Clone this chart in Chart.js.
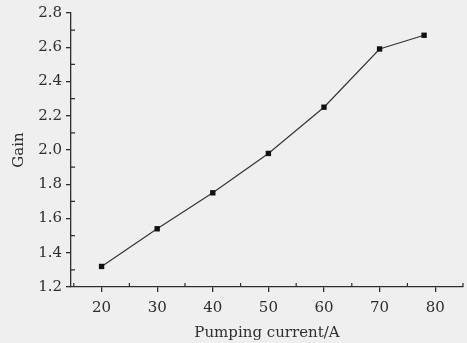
<!DOCTYPE html>
<html>
<head>
<meta charset="utf-8">
<script src="https://cdn.jsdelivr.net/npm/chart.js@4/dist/chart.umd.min.js"></script>
<style>
html, body { margin: 0; padding: 0; background: #efefef; }
#wrap { width: 467px; height: 343px; }
</style>
</head>
<body>
<div id="wrap"><canvas id="cnvs"></canvas></div>
<script>
// values
const currents = [20, 30, 40, 50, 60, 70, 78];
const gains = [1.32, 1.54, 1.75, 1.98, 2.25, 2.59, 2.67];

// tick positions
const xMajor = [20, 30, 40, 50, 60, 70, 80];
const xMinor = [15, 25, 35, 45, 55, 65, 75, 85];
const yMajor = [1.2, 1.4, 1.6, 1.8, 2.0, 2.2, 2.4, 2.6, 2.8];
const yMinor = [1.3, 1.5, 1.7, 1.9, 2.1, 2.3, 2.5, 2.7];

const ink = '#2e2e2e';
const font = { family: 'DejaVu Serif', size: 15 };

// small inward ticks between the labelled ones
const minorTicks = {
	id: 'minorTicks',
	afterDraw(chart)
	{
		var ctx = chart.ctx;
		var area = chart.chartArea;
		var xs = chart.scales.x, ys = chart.scales.y;
		ctx.save();
		ctx.strokeStyle = ink;
		ctx.lineWidth = 1.2;
		ctx.beginPath();
		xMinor.forEach(v => {
			var px = xs.getPixelForValue(v);
			if (px < area.left || px > area.right + 2) return;
			ctx.moveTo(px, area.bottom);
			ctx.lineTo(px, area.bottom - 4);
		});
		yMinor.forEach(v => {
			var py = ys.getPixelForValue(v);
			ctx.moveTo(area.left, py);
			ctx.lineTo(area.left + 4, py);
		});
		ctx.stroke();
		ctx.restore();
	}
};

new Chart(document.getElementById('cnvs'), {
	type: 'scatter',
	data: {
		datasets: [{
			data: currents.map((c, i) => ({ x: c, y: gains[i] })),
			showLine: true,
			borderColor: '#353535',
			borderWidth: 1.2,
			backgroundColor: '#111111',
			pointStyle: 'rect',
			pointRadius: 3.8,
			pointBorderWidth: 0
		}]
	},
	options: {
		responsive: true,
		maintainAspectRatio: false,
		devicePixelRatio: 1,
		animation: false,
		layout: { padding: { top: 13, right: 4, left: 0, bottom: 0 } },
		plugins: { legend: { display: false }, tooltip: { enabled: false } },
		scales: {
			x: {
				type: 'linear',
				min: 14.5,
				max: 85,
				afterBuildTicks: s => { s.ticks = xMajor.map(v => ({ value: v })); },
				afterFit: s => { s.height = 56; },
				border: { color: ink, width: 1.3 },
				grid: { drawOnChartArea: false, drawTicks: true, tickLength: 5, color: ink, lineWidth: 1.3, tickColor: ink, tickWidth: 1.3 },
				ticks: { color: ink, font: font, padding: 7, maxRotation: 0, callback: v => String(v) },
				title: { display: true, text: 'Pumping current/A', color: ink, font: font, padding: { top: 0, bottom: 1 } }
			},
			y: {
				type: 'linear',
				min: 1.2,
				max: 2.8,
				afterBuildTicks: s => { s.ticks = yMajor.map(v => ({ value: v })); },
				afterFit: s => { s.width = 71; },
				border: { color: ink, width: 1.3 },
				grid: { drawOnChartArea: false, drawTicks: true, tickLength: 5, color: ink, lineWidth: 1.3, tickColor: ink, tickWidth: 1.3 },
				ticks: { color: ink, font: font, padding: 4, callback: v => v.toFixed(1) },
				title: { display: true, text: 'Gain', color: ink, font: font, padding: { top: 10, bottom: 0 } }
			}
		}
	},
	plugins: [minorTicks]
});
</script>
</body>
</html>
